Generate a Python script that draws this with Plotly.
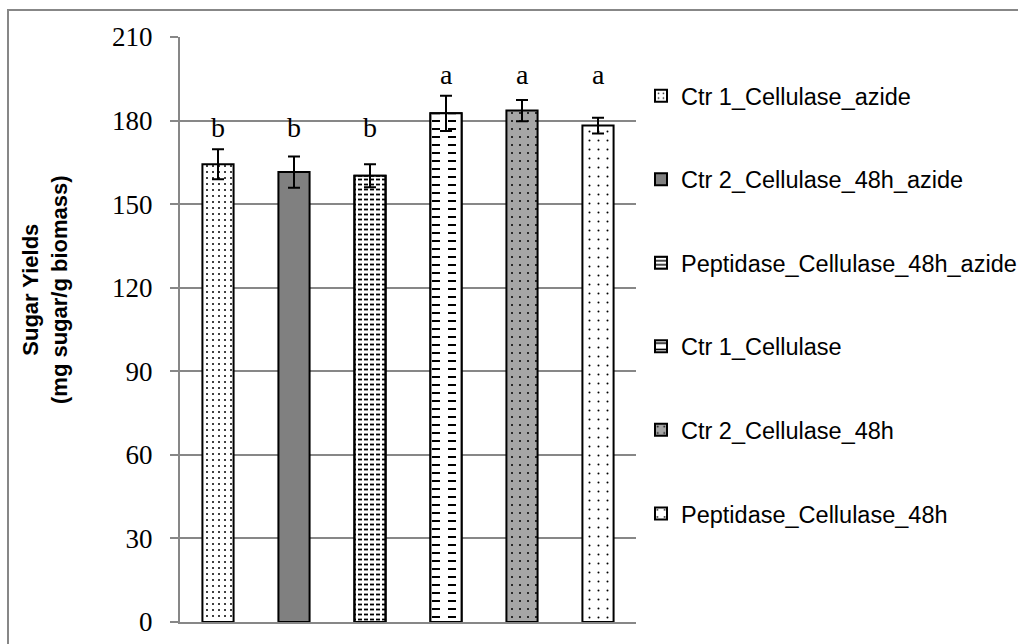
import plotly.graph_objects as go

# Treatments (one bar each) and measured sugar yields
groups = [
    "Ctr 1_Cellulase_azide",
    "Ctr 2_Cellulase_48h_azide",
    "Peptidase_Cellulase_48h_azide",
    "Ctr 1_Cellulase",
    "Ctr 2_Cellulase_48h",
    "Peptidase_Cellulase_48h",
]
sugar_yield = [164.3, 161.5, 160.2, 182.6, 183.6, 178.2]
yield_sd = [5.4, 5.6, 4.1, 6.3, 3.8, 2.8]
letters = ["b", "b", "b", "a", "a", "a"]
y_ticks = [0, 30, 60, 90, 120, 150, 180, 210]

# Fill styles per bar: (background, pattern shape, tile size, solidity)
fills = [
    ("white", ".", 6, 0.09),
    ("#808080", "", 8, 0.0),
    ("white", "-", 5, 0.36),
    ("white", "-", 8, 0.25),
    ("#a6a6a6", ".", 8, 0.05),
    ("white", ".", 9, 0.04),
]
# White vertical stripes laid over horizontal lines turn them into dashes
dash_breaks = {2: (6, 0.34), 3: (16, 0.5)}

GRID = "#878787"
BAR_W = 0.41
SERIF = "Liberation Serif"
SANS = "Liberation Sans"

fig = go.Figure()

for i, (name, val, sd) in enumerate(zip(groups, sugar_yield, yield_sd)):
    bg, shape, size, sol = fills[i]
    err = dict(type="data", array=[sd], color="black", thickness=2, width=6)
    fig.add_trace(go.Bar(
        x=[name], y=[val], name=name, width=BAR_W,
        legendgroup=name,
        marker=dict(
            color=bg,
            line=dict(color="black", width=2),
            pattern=dict(shape=shape, size=size, solidity=sol,
                         fgcolor="black", bgcolor=bg, fillmode="replace"),
        ),
        error_y=err if i not in dash_breaks else None,
        hoverinfo="skip",
    ))

for i, (bsize, bsol) in dash_breaks.items():
    fig.add_trace(go.Bar(
        x=[groups[i]], y=[sugar_yield[i]], width=BAR_W,
        showlegend=False, legendgroup=groups[i],
        marker=dict(
            color="rgba(0,0,0,0)",
            line=dict(color="black", width=2),
            pattern=dict(shape="|", size=bsize, solidity=bsol,
                         fgcolor="white", bgcolor="rgba(0,0,0,0)",
                         fillmode="replace"),
        ),
        error_y=dict(type="data", array=[yield_sd[i]], color="black",
                     thickness=2, width=6),
        hoverinfo="skip",
    ))

# Significance letters placed just above the tallest error bar of each group
annotations = []
for letter in dict.fromkeys(letters):
    top = max(v + e for v, e, l in zip(sugar_yield, yield_sd, letters) if l == letter)
    for name, l in zip(groups, letters):
        if l == letter:
            annotations.append(dict(
                x=name, y=top, xref="x", yref="y", text=l, showarrow=False,
                yanchor="bottom", yshift=4,
                font=dict(family=SERIF, size=28, color="black"),
            ))

# Y-axis title as rotated two-line label
annotations.append(dict(
    x=(45 - 180) / 456, y=(622 - 290) / 585, xref="paper", yref="paper",
    text="<b>Sugar Yields<br>(mg sugar/g biomass)</b>", textangle=-90,
    showarrow=False, xanchor="center", yanchor="middle",
    font=dict(family=SANS, size=22, color="black"),
))

# Chart frame: left and top edges (the rest falls outside the page)
fx0 = (8 - 180) / 456
fy1 = (622 - 10) / 585
frame_path = f"M {fx0},-0.2 L {fx0},{fy1} L 2.5,{fy1}"

fig.update_layout(
    width=1018, height=644,
    margin=dict(l=180, r=382, t=37, b=22, autoexpand=False),
    paper_bgcolor="white", plot_bgcolor="white",
    barmode="overlay",
    showlegend=True,
    legend=dict(
        x=(641 - 180) / 456, y=0.937, xanchor="left", yanchor="top",
        font=dict(family=SANS, size=23.5, color="black"),
        tracegroupgap=50, traceorder="grouped",
        bgcolor="rgba(0,0,0,0)", itemwidth=30,
    ),
    annotations=annotations,
    shapes=[dict(
        type="path", xref="paper", yref="paper", path=frame_path,
        line=dict(color=GRID, width=2), fillcolor="rgba(0,0,0,0)", layer="below",
    )],
)

fig.update_xaxes(
    type="category", categoryorder="array", categoryarray=groups,
    showticklabels=False, ticks="", showgrid=False,
    showline=True, linecolor=GRID, linewidth=2, zeroline=False,
)
fig.update_yaxes(
    range=[0, 210], tickvals=y_ticks, ticktext=[str(t) for t in y_ticks],
    showgrid=True, gridcolor=GRID, gridwidth=1.5,
    showline=True, linecolor=GRID, linewidth=2,
    ticks="outside", ticklen=8, tickcolor=GRID, tickwidth=2,
    ticklabelstandoff=12, zeroline=False,
    tickfont=dict(family=SERIF, size=27, color="black"),
)

fig.write_html("out.html")
